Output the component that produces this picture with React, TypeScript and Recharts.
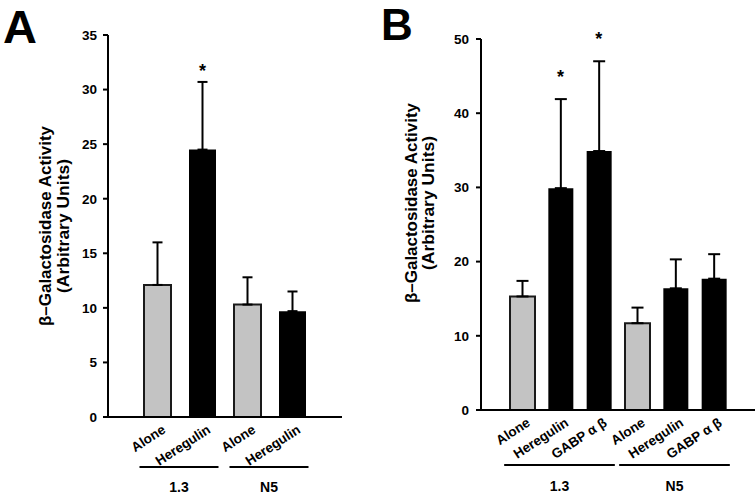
import React from 'react';
import { ComposedChart, Bar, Cell, ErrorBar, Line, XAxis, YAxis, Label } from 'recharts';

const FONT = '"Liberation Sans", Arial, Helvetica, sans-serif';
const GRAY = '#c3c3c3';

// Panel A: 1.3 and N5 cells, alone vs heregulin
const treatmentsA = ['Alone', 'Heregulin', 'Alone', 'Heregulin'];
const cellLinesA = ['1.3', '1.3', 'N5', 'N5'];
const meansA = [12.1, 24.5, 10.3, 9.7];
const errorsA = [3.9, 6.2, 2.5, 1.8];
const significantA = [false, true, false, false];
const ticksA = [0, 5, 10, 15, 20, 25, 30, 35];

// Panel B: adds GABP alpha/beta
const treatmentsB = ['Alone', 'Heregulin', 'GABP α β', 'Alone', 'Heregulin', 'GABP α β'];
const cellLinesB = ['1.3', '1.3', '1.3', 'N5', 'N5', 'N5'];
const meansB = [15.3, 29.9, 34.9, 11.7, 16.4, 17.7];
const errorsB = [2.1, 12.0, 12.1, 2.1, 3.9, 3.3];
const significantB = [false, true, true, false, false, false];
const ticksB = [0, 10, 20, 30, 40, 50];

const yLabelLines = ['β–Galactosidase Activity', '(Arbitrary Units)'];

interface Row {
  idx: number;
  treatment: string;
  mean: number;
  err: number;
  starTop: number | null;
}

const buildRows = (treatments: string[], means: number[], errors: number[], sig: boolean[]): Row[] =>
  treatments.map((t, i) => ({
    idx: i,
    treatment: t,
    mean: means[i],
    err: errors[i],
    starTop: sig[i] ? means[i] + errors[i] : null,
  }));

interface PanelProps {
  letter: string;
  treatments: string[];
  cellLines: string[];
  means: number[];
  errors: number[];
  significant: boolean[];
  ticks: number[];
  left: number;
  width: number;
  top: number;
  yAxisWidth: number;
  xAxisHeight: number;
  marginRight: number;
  pad: number;
  barSize: number;
  capHalf: number;
  starGap: number;
  labelX1: number;
  labelX2: number;
  labelY: number;
  bracketDy: number;
  groupDy: number;
  tickMargin: number;
  letterX: number;
  letterY: number;
  letterSize: number;
}

const HEIGHT = 495;

const Panel: React.FC<PanelProps> = (p) => {
  const rows = buildRows(p.treatments, p.means, p.errors, p.significant);
  const plotW = p.width - p.yAxisWidth - p.marginRight;
  const band = (plotW - 2 * p.pad) / rows.length;

  const CategoryTick = (props: any) => {
    const { x, y, payload } = props;
    const i = payload.index;
    const g = p.cellLines[i];
    const isFirst = i === 0 || p.cellLines[i - 1] !== g;
    let n = 0;
    for (let j = i; j < p.cellLines.length && p.cellLines[j] === g; j++) n++;
    const x1 = x - 18;
    const x2 = x + (n - 1) * band + 16;
    return (
      <g>
        <text
          transform={`translate(${x + 9},${y + 15}) rotate(-33)`}
          textAnchor="end"
          fontSize={13.5}
          fontWeight="bold"
          fill="#000"
        >
          {p.treatments[i]}
        </text>
        {isFirst && (
          <g>
            <line x1={x1} x2={x2} y1={y + p.bracketDy} y2={y + p.bracketDy} stroke="#000" strokeWidth={2} />
            <text x={(x1 + x2) / 2} y={y + p.groupDy} textAnchor="middle" fontSize={14} fontWeight="bold" fill="#000">
              {g}
            </text>
          </g>
        )}
      </g>
    );
  };

  const renderStar = (d: any) => {
    if (d.value == null || d.cy == null) return <g key={`s-${d.index}`} />;
    return (
      <text key={`s-${d.index}`} x={d.cx} y={d.cy - p.starGap} textAnchor="middle" fontSize={18} fontWeight="bold" fill="#000">
        *
      </text>
    );
  };

  const YLabel = () => (
    <g>
      <text
        transform={`translate(${p.labelX1},${p.labelY}) rotate(-90)`}
        textAnchor="middle"
        dominantBaseline="central"
        fontSize={17}
        fontWeight="bold"
        fill="#000"
        textLength={200}
        lengthAdjust="spacingAndGlyphs"
      >
        {yLabelLines[0]}
      </text>
      <text
        transform={`translate(${p.labelX2},${p.labelY}) rotate(-90)`}
        textAnchor="middle"
        dominantBaseline="central"
        fontSize={17}
        fontWeight="bold"
        fill="#000"
        textLength={134}
        lengthAdjust="spacingAndGlyphs"
      >
        {yLabelLines[1]}
      </text>
    </g>
  );

  const maxY = p.ticks[p.ticks.length - 1];

  return (
    <div style={{ position: 'absolute', left: p.left, top: 0, width: p.width, height: HEIGHT }}>
      <ComposedChart
        width={p.width}
        height={HEIGHT}
        data={rows}
        margin={{ top: p.top, right: p.marginRight, bottom: 0, left: 0 }}
      >
        <XAxis
          dataKey="idx"
          type="category"
          interval={0}
          height={p.xAxisHeight}
          padding={{ left: p.pad, right: p.pad }}
          axisLine={{ stroke: '#000', strokeWidth: 2 }}
          tickLine={false}
          tickSize={0}
          tickMargin={0}
          tick={<CategoryTick />}
        />
        <YAxis
          width={p.yAxisWidth}
          domain={[0, maxY]}
          ticks={p.ticks}
          interval={0}
          axisLine={{ stroke: '#000', strokeWidth: 2 }}
          tickLine={{ stroke: '#000', strokeWidth: 2 }}
          tickSize={5}
          tickMargin={p.tickMargin}
          tick={{ fill: '#000', fontSize: 13.5, fontWeight: 'bold' }}
        >
          <Label content={<YLabel />} />
        </YAxis>
        <Bar dataKey="mean" barSize={p.barSize} isAnimationActive={false}>
          {rows.map((r, i) => (
            <Cell
              key={`c-${i}`}
              fill={r.treatment === 'Alone' ? GRAY : '#000'}
              stroke={r.treatment === 'Alone' ? '#1a1a1a' : '#000'}
              strokeWidth={r.treatment === 'Alone' ? 2 : 0}
            />
          ))}
          <ErrorBar
            dataKey={(d: Row) => [0, d.err]}
            width={p.capHalf}
            stroke="#000"
            strokeWidth={2}
            direction="y"
            isAnimationActive={false}
          />
        </Bar>
        <Line
          dataKey="starTop"
          stroke="none"
          dot={renderStar}
          activeDot={false}
          isAnimationActive={false}
          legendType="none"
        />
      </ComposedChart>
      <div
        style={{
          position: 'absolute',
          left: p.letterX,
          top: p.letterY,
          fontSize: p.letterSize,
          fontWeight: 'bold',
          lineHeight: `${p.letterSize + 6}px`,
        }}
      >
        {p.letter}
      </div>
    </div>
  );
};

const App: React.FC = () => {
  return (
    <div
      style={{
        position: 'absolute',
        left: 0,
        top: 0,
        width: 755,
        height: HEIGHT,
        background: '#fff',
        overflow: 'hidden',
        fontFamily: FONT,
      }}
    >
      <Panel
        letter="A"
        treatments={treatmentsA}
        cellLines={cellLinesA}
        means={meansA}
        errors={errorsA}
        significant={significantA}
        ticks={ticksA}
        left={0}
        width={380}
        top={35}
        yAxisWidth={108}
        xAxisHeight={78}
        marginRight={38}
        pad={27}
        barSize={27}
        capHalf={5}
        starGap={5}
        labelX1={45}
        labelX2={63}
        labelY={226}
        bracketDy={50}
        groupDy={75}
        tickMargin={6}
        letterX={3}
        letterY={0}
        letterSize={47}
      />
      <Panel
        letter="B"
        treatments={treatmentsB}
        cellLines={cellLinesB}
        means={meansB}
        errors={errorsB}
        significant={significantB}
        ticks={ticksB}
        left={380}
        width={375}
        top={39}
        yAxisWidth={101}
        xAxisHeight={85}
        marginRight={0}
        pad={22}
        barSize={25}
        capHalf={6}
        starGap={16}
        labelX1={31}
        labelX2={48}
        labelY={203}
        bracketDy={55}
        groupDy={81}
        tickMargin={7}
        letterX={1}
        letterY={0}
        letterSize={44}
      />
    </div>
  );
};

export default App;
